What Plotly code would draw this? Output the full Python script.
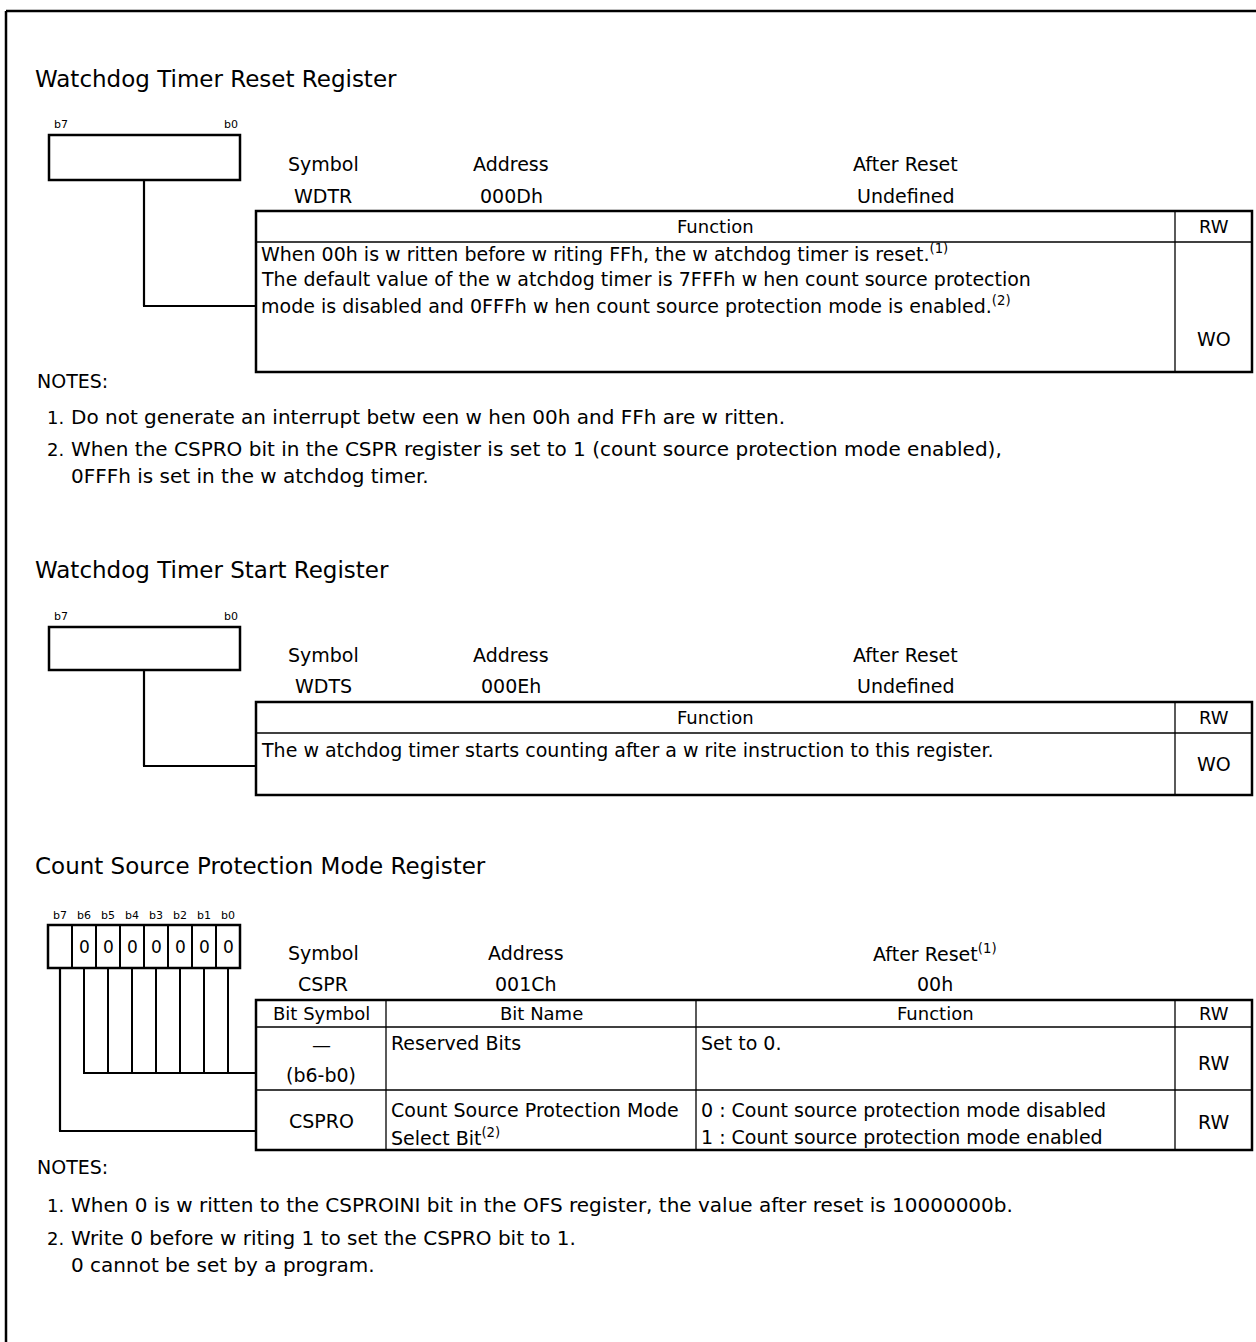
import plotly.graph_objects as go

W, H = 1256, 1342
FONT = "DejaVu Sans, Liberation Sans, Arial, sans-serif"

# ---------------- content ----------------
titles = ["Watchdog Timer Reset Register",
          "Watchdog Timer Start Register",
          "Count Source Protection Mode Register"]

info_headers = ["Symbol", "Address", "After Reset"]
info_headers3 = ["Symbol", "Address", "After Reset<sup>(1)</sup>"]
wdtr_info = ["WDTR", "000Dh", "Undefined"]
wdts_info = ["WDTS", "000Eh", "Undefined"]
cspr_info = ["CSPR", "001Ch", "00h"]

func_headers = ["Function", "RW"]
wdtr_func = ["When 00h is w ritten before w riting FFh, the w atchdog timer is reset.<sup>(1)</sup>",
             "The default value of the w atchdog timer is 7FFFh w hen count source protection",
             "mode is disabled and 0FFFh w hen count source protection mode is enabled.<sup>(2)</sup>"]
wdtr_rw = "WO"
wdts_func = ["The w atchdog timer starts counting after a w rite instruction to this register."]
wdts_rw = "WO"

cspr_headers = ["Bit Symbol", "Bit Name", "Function", "RW"]
cspr_rows = [
    {"sym": ["—", "(b6-b0)"], "name": ["Reserved Bits"], "func": ["Set to 0."], "rw": "RW"},
    {"sym": ["CSPRO"], "name": ["Count Source Protection Mode", "Select Bit<sup>(2)</sup>"],
     "func": ["0 : Count source protection mode disabled", "1 : Count source protection mode enabled"],
     "rw": "RW"},
]
bit_labels = ["b7", "b6", "b5", "b4", "b3", "b2", "b1", "b0"]
bit_values = ["", "0", "0", "0", "0", "0", "0", "0"]

notes1 = [["1.", "Do not generate an interrupt betw een w hen 00h and FFh are w ritten."],
          ["2.", "When the CSPRO bit in the CSPR register is set to 1 (count source protection mode enabled),",
           "0FFFh is set in the w atchdog timer."]]
notes3 = [["1.", "When 0 is w ritten to the CSPROINI bit in the OFS register, the value after reset is 10000000b."],
          ["2.", "Write 0 before w riting 1 to set the CSPRO bit to 1.",
           "0 cannot be set by a program."]]

# ---------------- sizes ----------------
S_TITLE, S_INFO, S_HDR, S_BODY, S_NOTE, S_BIT, S_ZERO = 23, 19, 18, 19, 20, 11, 17

# ---------------- drawing helpers ----------------
shapes = []
annotations = []


def line(x0, y0, x1, y1, w=2.0):
    shapes.append(dict(type="line", x0=x0, y0=y0, x1=x1, y1=y1, xref="x", yref="y",
                       line=dict(color="black", width=w)))


def rect(x0, y0, x1, y1, w=2.5):
    shapes.append(dict(type="rect", x0=x0, y0=y0, x1=x1, y1=y1, xref="x", yref="y",
                       line=dict(color="black", width=w), fillcolor="rgba(0,0,0,0)"))


def text(x, y, s, size=16, anchor="left"):
    annotations.append(dict(x=x, y=y, xref="x", yref="y", text=s, showarrow=False,
                            xanchor=anchor, yanchor="middle",
                            font=dict(family=FONT, size=size, color="black")))


# outer frame (left and top)
line(6, 11, 6, H + 5, 2.5)
line(6, 11, W + 5, 11, 2.5)

T_L, T_R, RW_X = 256, 1252, 1175
INFO_X = [323, 511, 905]
titles_i = list(titles)


def single_register(y_title, y_bits, box_top, box_bot, stem_y, tbl_top, tbl_hdr, tbl_bot,
                    info_hdr_y, info_val_y, info_vals, func_lines, func_y, rw, rw_y):
    text(33, y_title, titles_i.pop(0), S_TITLE)
    text(61, y_bits, bit_labels[0], S_BIT, "center")
    text(231, y_bits, bit_labels[-1], S_BIT, "center")
    rect(49, box_top, 240, box_bot, 2.5)
    line(144, box_bot, 144, stem_y, 2.2)
    line(143, stem_y, T_L, stem_y, 2.2)
    for hx, h, v in zip(INFO_X, info_headers, info_vals):
        text(hx, info_hdr_y, h, S_INFO, "center")
        text(hx, info_val_y, v, S_INFO, "center")
    rect(T_L, tbl_top, T_R, tbl_bot, 2.5)
    line(T_L, tbl_hdr, T_R, tbl_hdr, 1.3)
    line(RW_X, tbl_top, RW_X, tbl_bot, 1.3)
    text((T_L + RW_X) / 2, (tbl_top + tbl_hdr) / 2, func_headers[0], S_HDR, "center")
    text((RW_X + T_R) / 2, (tbl_top + tbl_hdr) / 2, func_headers[1], S_HDR, "center")
    for s, fy in zip(func_lines, func_y):
        text(259, fy, s, S_BODY)
    text((RW_X + T_R) / 2, rw_y, rw, S_BODY, "center")


def notes(y_head, items, ys):
    text(35, y_head, "NOTES:", S_NOTE - 1)
    k = 0
    for item in items:
        text(45, ys[k], item[0], S_NOTE - 2)
        text(69, ys[k], item[1], S_NOTE)
        k += 1
        for extra in item[2:]:
            text(69, ys[k], extra, S_NOTE)
            k += 1


# ---- Section 1 ----
single_register(79, 124, 135, 180, 306, 211, 242, 372, 164, 196, wdtr_info,
                wdtr_func, [253, 279, 305], wdtr_rw, 339)
notes(381, notes1, [417, 449, 476])

# ---- Section 2 ----
single_register(570, 616, 627, 670, 766, 702, 733, 795, 655, 686, wdts_info,
                wdts_func, [750], wdts_rw, 764)

# ---- Section 3 ----
text(33, 866, titles_i.pop(0), S_TITLE)
cell_w = 24
bx0, by0, by1 = 48, 925, 968
for i, (lab, val) in enumerate(zip(bit_labels, bit_values)):
    cx = bx0 + cell_w * i + cell_w / 2
    text(cx, 915, lab, S_BIT, "center")
    if val:
        text(cx, 947, val, S_ZERO, "center")
    if i > 0:
        line(bx0 + cell_w * i, by0, bx0 + cell_w * i, by1, 2.0)
rect(bx0, by0, bx0 + cell_w * 8, by1, 2.5)
# leader lines from the bits to the table rows
line(60, by1, 60, 1131, 2.2)
line(59, 1131, T_L, 1131, 2.2)
for i in range(1, 8):
    cx = bx0 + cell_w * i + cell_w / 2
    line(cx, by1, cx, 1073, 2.0)
line(83, 1073, T_L, 1073, 2.0)

INFO_X3 = [323, 526, 935]
for hx, h, v in zip(INFO_X3, info_headers3, cspr_info):
    text(hx, 953, h, S_INFO, "center")
    text(hx, 984, v, S_INFO, "center")

cols = [T_L, 386, 696, RW_X, T_R]
t_top, t_hdr, t_mid, t_bot = 1000, 1027, 1090, 1150
rect(T_L, t_top, T_R, t_bot, 2.5)
line(T_L, t_hdr, T_R, t_hdr, 1.3)
line(T_L, t_mid, T_R, t_mid, 1.3)
for cx in cols[1:-1]:
    line(cx, t_top, cx, t_bot, 1.3)
for j, h in enumerate(cspr_headers):
    text((cols[j] + cols[j + 1]) / 2, (t_top + t_hdr) / 2, h, S_HDR, "center")

row_cfg = [
    dict(sym_y=[1045, 1075], name_y=[1043], func_y=[1043], rw_y=1063),
    dict(sym_y=[1121], name_y=[1110, 1137], func_y=[1110, 1137], rw_y=1122),
]
for row, cfg in zip(cspr_rows, row_cfg):
    for s, yy in zip(row["sym"], cfg["sym_y"]):
        text((cols[0] + cols[1]) / 2, yy, s, S_BODY, "center")
    for s, yy in zip(row["name"], cfg["name_y"]):
        text(cols[1] + 3, yy, s, S_BODY)
    for s, yy in zip(row["func"], cfg["func_y"]):
        text(cols[2] + 3, yy, s, S_BODY)
    text((cols[3] + cols[4]) / 2, cfg["rw_y"], row["rw"], S_BODY, "center")

notes(1167, notes3, [1205, 1238, 1265])

fig = go.Figure()
fig.update_layout(
    width=W, height=H,
    margin=dict(l=0, r=0, t=0, b=0),
    paper_bgcolor="white", plot_bgcolor="white",
    xaxis=dict(range=[0, W], visible=False, fixedrange=True),
    yaxis=dict(range=[H, 0], visible=False, fixedrange=True),
    shapes=shapes, annotations=annotations, showlegend=False,
)
fig.write_html("out.html", config=dict(displayModeBar=False),
               post_script="document.body.style.margin='0';document.body.style.overflow='hidden';")
